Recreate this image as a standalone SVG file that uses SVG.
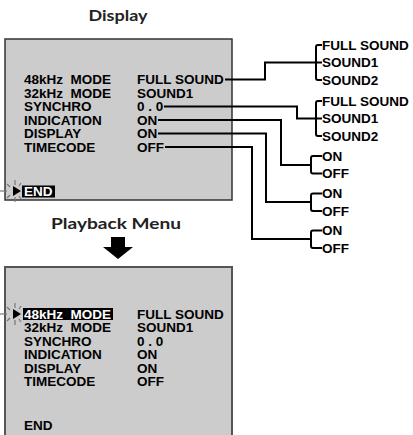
<svg xmlns="http://www.w3.org/2000/svg" width="413" height="435" viewBox="0 0 413 435">
<style>
.t{font-family:"Liberation Sans",Arial,sans-serif;font-weight:bold;font-size:13.5px;fill:#000}
.w{fill:#fff}
.h{font-family:Lato,"Open Sans",sans-serif;font-weight:bold;font-size:16px;fill:#222;text-anchor:middle}
.box{fill:#cccccc;stroke:#333;stroke-width:1.5}
.c{fill:none;stroke:#000;stroke-width:2}
.sp{stroke:#777;stroke-width:1.2}
</style>
<defs>
<g id="cursor">
<path d="M0,-5 L8,0 L0,5 Z" fill="#000"/>
<line class="sp" x1="-13" y1="0" x2="-6" y2="0"/>
<line class="sp" x1="2" y1="-11" x2="2" y2="-6"/>
<line class="sp" x1="2" y1="6" x2="2" y2="11"/>
<line class="sp" x1="-6" y1="-7" x2="-3" y2="-4"/>
<line class="sp" x1="-6" y1="7" x2="-3" y2="4"/>
<line class="sp" x1="8" y1="-8" x2="6" y2="-5"/>
<line class="sp" x1="8" y1="8" x2="6" y2="5"/>
</g>
</defs>
<rect width="413" height="435" fill="#fff"/>
<text class="h" x="118" y="21" textLength="59" lengthAdjust="spacingAndGlyphs">Display</text>
<g id="display-menu">
<rect class="box" x="5" y="39" width="227" height="161"/>
<text class="t" x="24" y="84" xml:space="preserve">48kHz  MODE</text>
<text class="t" x="24" y="97.5" xml:space="preserve">32kHz  MODE</text>
<text class="t" x="24" y="111">SYNCHRO</text>
<text class="t" x="24" y="124.5">INDICATION</text>
<text class="t" x="24" y="138">DISPLAY</text>
<text class="t" x="24" y="151.5">TIMECODE</text>
<text class="t" x="137" y="84">FULL SOUND</text>
<text class="t" x="137" y="97.5">SOUND1</text>
<text class="t" x="137" y="111">0 . 0</text>
<text class="t" x="137" y="124.5">ON</text>
<text class="t" x="137" y="138">ON</text>
<text class="t" x="137" y="151.5">OFF</text>
<rect x="22" y="185.5" width="33" height="12" fill="#000"/>
<text class="t w" x="24" y="196">END</text>
<use href="#cursor" x="13" y="191"/>
</g>
<text class="h" x="116" y="229" textLength="130" lengthAdjust="spacingAndGlyphs">Playback Menu</text>
<path id="down-arrow" d="M111,237 H125 V247 H133 L118,259 L103,247 H111 Z" fill="#000"/>
<g id="playback-menu">
<rect x="5" y="267" width="227" height="172" fill="#cccccc" stroke="#555" stroke-width="2"/>
<rect x="23" y="308" width="90" height="12" fill="#000"/>
<text class="t w" x="24" y="318.5" xml:space="preserve">48kHz  MODE</text>
<text class="t" x="24" y="332" xml:space="preserve">32kHz  MODE</text>
<text class="t" x="24" y="345.5">SYNCHRO</text>
<text class="t" x="24" y="359">INDICATION</text>
<text class="t" x="24" y="372.5">DISPLAY</text>
<text class="t" x="24" y="386">TIMECODE</text>
<text class="t" x="137" y="318.5">FULL SOUND</text>
<text class="t" x="137" y="332">SOUND1</text>
<text class="t" x="137" y="345.5">0 . 0</text>
<text class="t" x="137" y="359">ON</text>
<text class="t" x="137" y="372.5">ON</text>
<text class="t" x="137" y="386">OFF</text>
<text class="t" x="24" y="430">END</text>
<use href="#cursor" x="13" y="314"/>
</g>
<g id="opt-48k">
<path class="c" d="M322,45 H318 Q316,45 316,47 V78 Q316,80 318,80 H322 M316,62.5 H322"/>
<text class="t" x="322" y="49.5">FULL SOUND</text>
<text class="t" x="322" y="67">SOUND1</text>
<text class="t" x="322" y="84.5">SOUND2</text>
</g>
<g id="opt-32k">
<path class="c" d="M322,101 H318 Q316,101 316,103 V134 Q316,136 318,136 H322 M316,118.5 H322"/>
<text class="t" x="322" y="105.5">FULL SOUND</text>
<text class="t" x="322" y="123">SOUND1</text>
<text class="t" x="322" y="140.5">SOUND2</text>
</g>
<g id="opt-indication">
<path class="c" d="M322,156 H313 Q311,156 311,158 V171.5 Q311,173.5 313,173.5 H322"/>
<text class="t" x="322" y="160.5">ON</text>
<text class="t" x="322" y="178">OFF</text>
</g>
<g id="opt-display">
<path class="c" d="M322,193.5 H313 Q311,193.5 311,195.5 V209 Q311,211 313,211 H322"/>
<text class="t" x="322" y="198">ON</text>
<text class="t" x="322" y="215.5">OFF</text>
</g>
<g id="opt-timecode">
<path class="c" d="M322,230.5 H313 Q311,230.5 311,232.5 V246 Q311,248 313,248 H322"/>
<text class="t" x="322" y="235">ON</text>
<text class="t" x="322" y="252.5">OFF</text>
</g>
<g id="connectors">
<path class="c" d="M225,79.5 H265 V62.5 H316"/>
<path class="c" d="M164,106.5 H297 V118.5 H316"/>
<path class="c" d="M158,120 H281 V165 H311"/>
<path class="c" d="M158,133.5 H266 V202 H311"/>
<path class="c" d="M165,147 H252 V239 H311"/>
</g>
</svg>
